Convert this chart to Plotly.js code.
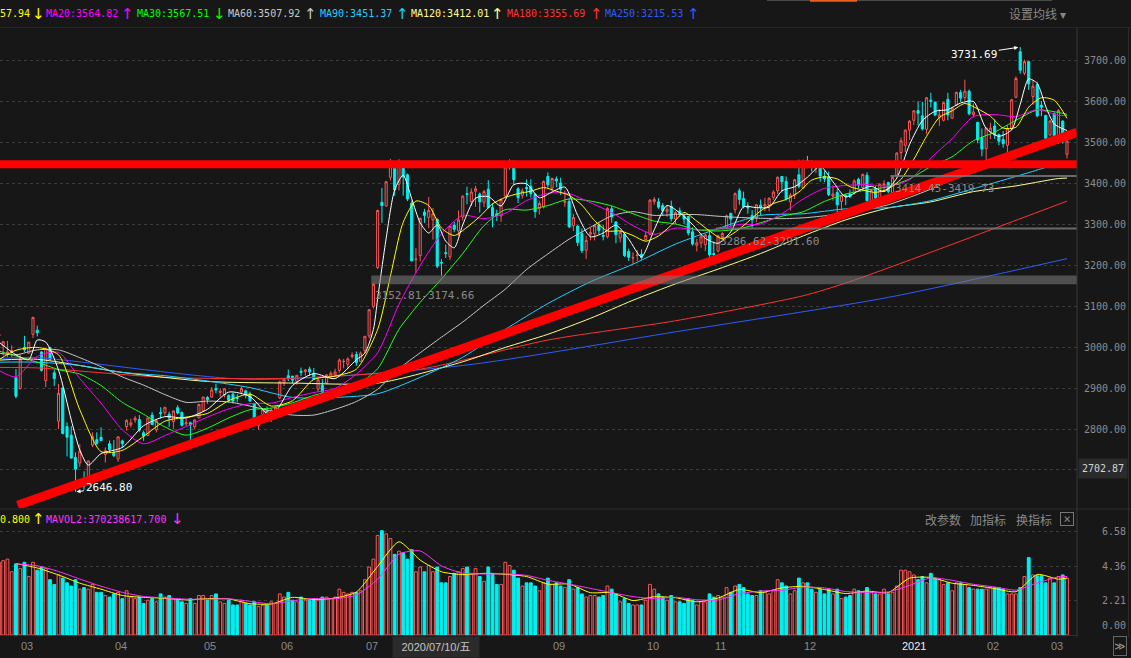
<!DOCTYPE html>
<html><head><meta charset="utf-8">
<script src="https://cdn.plot.ly/plotly-3.0.1.min.js"></script>
<style>html,body{margin:0;padding:0;background:#171717;overflow:hidden}#chart{width:1131px;height:658px}</style>
</head><body><div id="chart"></div>
<script>
// ---------------- DATA ----------------
const monthDays = [
 ['2020-02',[24,25,26,27,28]],
 ['2020-03',[2,3,4,5,6,9,10,11,12,13,16,17,18,19,20,23,24,25,26,27,30,31]],
 ['2020-04',[1,2,3,7,8,9,10,13,14,15,16,17,20,21,22,23,24,27,28,29,30]],
 ['2020-05',[6,7,8,11,12,13,14,15,18,19,20,21,22,25,26,27,28,29]],
 ['2020-06',[1,2,3,4,5,8,9,10,11,12,15,16,17,18,19,22,23,24,29,30]],
 ['2020-07',[1,2,3,6,7,8,9,10,13,14,15,16,17,20,21,22,23,24,27,28,29,30,31]],
 ['2020-08',[3,4,5,6,7,10,11,12,13,14,17,18,19,20,21,24,25,26,27,28,31]],
 ['2020-09',[1,2,3,4,7,8,9,10,11,14,15,16,17,18,21,22,23,24,25,28,29,30]],
 ['2020-10',[9,12,13,14,15,16,19,20,21,22,23,26,27,28,29,30]],
 ['2020-11',[2,3,4,5,6,9,10,11,12,13,16,17,18,19,20,23,24,25,26,27,30]],
 ['2020-12',[1,2,3,4,7,8,9,10,11,14,15,16,17,18,21,22,23,24,25,28,29,30,31]],
 ['2021-01',[4,5,6,7,8,11,12,13,14,15,18,19,20,21,22,25,26,27,28,29]],
 ['2021-02',[1,2,3,4,5,8,9,10,18,19,22,23,24,25,26]],
 ['2021-03',[1,2,3,4,5]]
];
const open = [
3027,3003,2984,2989,2925,
2899,2999,2985,3031,3041,2988,2918,2999,2937,2819,2900,2806,2785,2731,2717,2677,2678,2761,2774,2780,2738,2764,
2743,2727,2771,2806,2810,2822,2823,2791,2784,2834,2798,2840,2840,2836,2818,2852,2840,2813,2815,2806,2827,
2844,2877,2878,2899,2889,2883,2882,2885,2876,2890,2893,2885,2862,2809,2835,2845,2836,2833,
2876,2913,2930,2929,2916,2941,2940,2946,2936,2897,2907,2912,2929,2932,2943,2964,2958,2977,2982,2965,
2991,3027,3099,3194,3353,3344,3414,3435,3397,3441,3420,3351,3213,3223,3329,3316,3310,3311,3206,3230,3220,3297,3283,
3317,3374,3355,3380,3373,3353,3385,3340,3325,3320,3368,3443,3451,3386,3370,3389,3392,3373,3338,3342,3416,
3388,3410,3400,3353,3355,3296,3295,3277,3236,3275,3276,3298,3272,3269,3337,3305,3266,3275,3233,3217,3223,3226,
3262,3275,3355,3354,3345,3330,3343,3312,3332,3320,3318,3281,3248,3254,3250,3272,
3228,3234,3269,3290,3326,3335,3381,3362,3344,3321,3315,3346,3344,3346,3365,3381,3416,3404,3354,3371,3420,
3388,3455,3446,3436,3448,3416,3414,3368,3377,3355,3370,3373,3375,3409,3389,3419,3354,3386,3352,3395,3401,3376,3419,
3474,3492,3529,3553,3577,3564,3531,3602,3597,3560,3553,3604,3558,3590,3621,3608,3624,3567,3548,3511,
3484,3525,3539,3518,3506,3492,3532,3609,3720,3668,3696,3611,3640,3590,3565,
3517,3569,3510,3551,3470];
const high = [
3040,3014,3015,3004,2946,
2982,3027,3012,3074,3052,2990,2998,3000,2944,2910,2903,2816,2807,2743,2763,2697,2723,2792,2792,2804,2755,2772,
2773,2781,2774,2824,2825,2832,2834,2796,2827,2841,2822,2853,2853,2842,2845,2858,2843,2829,2818,2823,2861,
2878,2880,2902,2910,2899,2900,2884,2889,2885,2904,2896,2891,2863,2821,2847,2855,2851,2855,
2918,2922,2945,2929,2931,2950,2946,2952,2949,2927,2922,2934,2941,2947,2972,2971,2975,2987,2989,2989,
3027,3092,3155,3335,3388,3405,3459,3439,3458,3442,3423,3357,3241,3315,3337,3366,3339,3314,3214,3250,3295,3305,3333,
3370,3391,3387,3393,3377,3383,3407,3350,3335,3362,3445,3458,3455,3390,3387,3409,3409,3375,3357,3406,3426,
3413,3416,3413,3382,3364,3325,3297,3289,3271,3290,3298,3303,3298,3341,3345,3307,3285,3278,3240,3231,3236,3238,
3281,3361,3366,3363,3351,3346,3357,3331,3340,3325,3320,3292,3264,3277,3276,3285,
3257,3274,3280,3323,3327,3377,3387,3379,3353,3334,3348,3360,3364,3365,3382,3416,3417,3416,3376,3410,3457,
3457,3466,3456,3447,3451,3430,3428,3394,3385,3372,3374,3384,3409,3413,3423,3426,3386,3392,3399,3407,3403,3416,3475,
3511,3530,3553,3578,3599,3598,3610,3620,3599,3580,3598,3620,3585,3623,3627,3652,3628,3594,3549,3533,
3536,3547,3555,3521,3527,3541,3605,3660,3731.69,3701,3697,3651,3647,3600,3566,
3553,3572,3580,3553,3505];
const low = [
3015,2979,2975,2975,2875,
2896,2988,2983,3022,3026,2940,2902,2967,2905,2800,2787,2733,2728,2646.8,2708,2652,2665,2756,2761,2771,2718,2743,
2731,2720,2754,2796,2804,2815,2793,2771,2783,2810,2792,2826,2833,2805,2800,2836,2806,2807,2765,2800,2827,
2842,2862,2876,2887,2879,2877,2864,2862,2865,2888,2875,2866,2813,2798,2830,2834,2817,2825,
2873,2905,2917,2911,2908,2929,2930,2930,2920,2891,2887,2911,2922,2928,2937,2948,2946,2972,2954,2965,
2985,3021,3094,3190,3303,3342,3406,3369,3382,3369,3356,3209,3180,3209,3303,3290,3262,3192,3174,3217,3212,3280,3271,
3308,3348,3344,3342,3328,3341,3338,3292,3307,3305,3365,3432,3395,3351,3362,3367,3365,3315,3323,3338,3389,
3379,3390,3371,3342,3290,3283,3246,3229,3215,3260,3260,3275,3260,3265,3303,3253,3255,3220,3210,3203,3209,3213,
3260,3272,3347,3337,3321,3318,3306,3300,3318,3300,3272,3247,3233,3242,3234,3220,
3209,3230,3257,3289,3292,3326,3347,3338,3325,3291,3304,3321,3331,3331,3359,3373,3377,3357,3333,3361,3387,
3386,3436,3428,3424,3403,3402,3368,3357,3325,3334,3346,3363,3372,3387,3385,3350,3342,3357,3347,3380,3375,3368,3418,
3457,3475,3505,3541,3540,3528,3519,3584,3563,3539,3550,3553,3557,3588,3598,3601,3565,3560,3497,3465,
3446,3507,3508,3492,3486,3468,3528,3607,3667,3663,3627,3591,3560,3563,3498,
3514,3503,3495,3496,3460];
const close = [
3031,3013,2988,2991,2880,
2971,2993,3012,3072,3035,2943,2997,2969,2923,2887,2789,2780,2729,2702,2746,2660,2722,2782,2765,2772,2747,2750,
2735,2781,2764,2821,2815,2826,2797,2783,2827,2811,2820,2838,2853,2827,2844,2839,2809,2815,2810,2822,2860,
2878,2872,2895,2895,2892,2898,2870,2868,2875,2899,2884,2868,2814,2818,2847,2837,2846,2852,
2915,2921,2923,2919,2931,2938,2944,2939,2921,2920,2890,2932,2936,2939,2968,2965,2971,2980,2962,2985,
3026,3091,3153,3333,3345,3403,3451,3383,3443,3415,3361,3210,3214,3314,3321,3333,3325,3197,3205,3228,3295,3287,3310,
3368,3372,3378,3386,3354,3379,3340,3319,3321,3360,3439,3451,3408,3364,3381,3386,3374,3330,3350,3404,3396,
3411,3405,3385,3355,3293,3316,3255,3235,3260,3279,3296,3284,3270,3338,3317,3274,3280,3223,3219,3218,3224,3218,
3272,3358,3360,3341,3332,3336,3313,3328,3325,3312,3278,3251,3254,3269,3273,3225,
3225,3271,3277,3320,3312,3374,3360,3342,3339,3310,3347,3340,3347,3363,3378,3414,3403,3362,3370,3408,3392,
3452,3449,3442,3445,3417,3410,3372,3373,3347,3369,3367,3367,3405,3395,3421,3357,3382,3363,3397,3397,3379,3414,3473,
3503,3529,3551,3576,3570,3532,3608,3599,3566,3566,3596,3566,3583,3621,3607,3624,3569,3573,3505,3483,
3534,3534,3517,3502,3496,3532,3603,3655,3675,3696,3642,3636,3564,3585,3509,
3551,3509,3577,3503,3502];
// volume, in 1e8 (axis units)
const volume = [
4.6,4.7,4.8,4.0,4.5,
4.2,4.6,3.7,4.6,4.1,4.3,4.2,3.5,3.2,3.8,3.6,3.3,3.1,3.5,2.9,3.0,2.9,3.2,2.7,2.7,2.5,2.4,
2.6,2.7,2.3,2.8,2.4,2.3,2.4,2.0,2.2,2.3,2.1,2.6,2.4,2.5,2.3,2.2,2.1,2.0,2.3,2.0,2.5,
2.5,2.2,2.5,2.6,2.1,2.0,2.2,1.9,1.9,2.2,2.0,1.9,2.1,1.8,1.9,1.9,2.1,2.0,
2.6,2.4,2.7,2.2,2.1,2.4,2.2,2.2,2.3,2.2,2.4,2.4,2.3,2.4,2.9,2.7,2.6,2.7,2.7,2.8,
3.5,4.3,4.8,6.3,6.6,6.4,6.1,5.1,5.3,5.2,4.8,5.4,4.0,4.3,4.0,4.4,4.0,4.3,3.3,3.3,3.7,3.9,4.0,
4.2,4.3,3.9,4.2,3.7,3.4,4.3,3.9,3.2,3.2,4.6,4.4,4.1,3.6,3.1,3.3,3.3,3.1,2.8,3.3,3.6,
3.2,3.3,3.1,3.0,3.5,2.9,3.0,2.6,2.4,2.5,2.5,2.4,2.5,3.1,2.9,2.6,2.1,2.3,2.0,1.9,1.9,1.9,
2.2,3.2,2.9,2.6,2.4,2.2,2.5,2.1,2.1,2.0,2.3,2.2,1.9,2.1,2.1,2.6,
2.4,2.5,2.4,3.0,2.7,3.1,3.2,3.0,2.6,2.5,2.5,2.8,2.7,2.6,2.8,3.5,3.3,3.1,2.6,2.8,3.6,
3.3,3.3,2.9,2.7,2.9,2.6,2.9,2.6,2.9,2.3,2.4,2.5,2.9,2.8,2.7,3.0,2.7,2.6,2.6,2.9,2.6,2.7,3.1,
4.1,4.1,4.0,3.8,3.5,3.7,3.3,3.9,3.6,3.5,3.2,3.3,2.8,3.3,3.3,3.2,3.0,2.9,2.9,2.9,
2.9,3.0,3.0,3.0,2.9,2.6,2.6,2.6,3.0,3.7,4.9,3.8,3.75,3.75,3.3,
3.6,3.3,3.7,3.8,3.6];

// moving-average lines, read at anchor trading days (index into dates)
const step5 = [4,9,14,19,24,29,34,39,44,49,54,59,64,69,74,79,84,89,94,99,104,109,114,119,124,129,134,139,144,149,154,159,164,169,174,179,184,189,194,199,204,209,214,219,224,229,234,239,244,249,251];
const ma5Idx = [0,4,7,9,11,14,17,19,21,24,29,34,39,44,49,54,59,64,69,74,79,84,86,88,89,91,93,95,97,99,101,103,105,107,109,112,115,118,121,124,127,130,133,136,139,142,145,148,151,154,157,160,163,166,169,172,175,178,181,184,187,190,193,196,199,202,205,208,211,214,217,220,223,226,229,232,235,238,240,242,244,246,248,251];
const ma5 = [3012,2981,2969,3017,3012,2944,2822,2749,2712,2740,2755,2808,2830,2827,2848,2890,2879,2832,2906,2935,2923,2969,2985,3043,3118,3265,3383,3419,3362,3303,3278,3298,3258,3242,3298,3363,3367,3344,3396,3398,3364,3378,3390,3321,3269,3278,3297,3263,3220,3286,3345,3327,3299,3265,3253,3281,3342,3340,3341,3381,3391,3414,3441,3403,3366,3381,3392,3379,3412,3494,3552,3575,3579,3595,3599,3533,3514,3530,3592,3654,3643,3587,3544,3528];
const ma10Idx = [0,4,9,14,19,24,29,34,39,44,49,54,59,64,69,74,79,84,89,92,95,98,101,104,107,110,113,116,119,122,125,128,131,134,137,140,143,146,149,152,155,158,161,164,167,170,173,176,179,182,185,188,191,194,197,200,203,206,209,212,215,218,221,224,227,230,233,236,239,242,245,248,251];
const ma10 = [2969,2992,2999,2981,2847,2745,2748,2782,2819,2829,2838,2869,2885,2856,2869,2921,2929,2946,3043,3173,3304,3356,3345,3290,3272,3292,3318,3349,3365,3374,3380,3389,3380,3370,3346,3308,3283,3283,3272,3258,3271,3297,3328,3307,3283,3264,3280,3305,3332,3350,3360,3378,3407,3415,3410,3391,3383,3377,3386,3409,3458,3514,3560,3576,3594,3581,3563,3534,3536,3585,3608,3602,3557.94];
const ma20 = [2943,2927,2977,2987,2923,2863,2798,2764,2784,2806,2829,2849,2862,2863,2877,2889,2899,2934,2986,3104,3199,3276,3321,3313,3326,3357,3375,3374,3352,3328,3296,3275,3290,3286,3288,3299,3300,3325,3361,3387,3394,3396,3393,3408,3461,3508,3562,3567,3562,3579,3565,3564.82];
const ma30 = [2990,2978,2963,2945,2934,2906,2865,2836,2805,2785,2802,2827,2847,2851,2864,2882,2894,2908,2947,3043,3109,3166,3228,3296,3335,3334,3345,3361,3356,3344,3325,3307,3300,3286,3283,3288,3303,3319,3330,3355,3373,3383,3391,3410,3440,3464,3503,3524,3553,3578,3572,3567.51];
const ma60 = [2985,2981,2993,2993,2974,2952,2927,2907,2884,2865,2868,2866,2856,2844,2834,2834,2848,2867,2897,2947,2986,3024,3061,3102,3141,3189,3227,3263,3292,3320,3330,3321,3323,3323,3319,3316,3314,3313,3315,3320,3328,3336,3347,3365,3385,3409,3438,3454,3472,3494,3506,3507.92];
const ma90Idx = [0,9,19,29,39,49,59,69,79,89,99,109,119,129,139,149,159,169,179,189,199,209,219,229,239,249,251];
const ma90 = [2963,2963,2955,2938,2930,2917,2901,2877,2877,2886,2926,2975,3043,3106,3159,3202,3251,3289,3321,3325,3337,3340,3357,3386,3416,3447,3451.37];
const ma120Idx = [0,9,29,49,69,89,109,119,129,139,149,159,169,179,189,199,209,219,229,239,249,251];
const ma120 = [2968,2970,2938,2916,2912,2912,2964,2999,3031,3070,3114,3154,3190,3228,3271,3310,3339,3354,3379,3393,3411,3412.01];
const ma180Idx = [0,9,39,69,99,129,159,189,199,219,239,251];
const ma180 = [2950,2949,2926,2924,2946,3017,3064,3125,3156,3231,3309,3355.69];
const ma250Idx = [0,9,59,109,159,209,251];
const ma250 = [2972,2974,2921,2955,3037,3121,3215.53];
const mavol1 = [4.52,4.24,3.80,3.28,2.90,2.50,2.38,2.32,2.22,2.30,2.28,1.98,1.96,2.38,2.24,2.34,2.72,4.34,5.90,4.74,4.00,3.82,3.90,3.84,3.70,3.22,3.22,2.68,2.68,2.18,2.42,2.36,2.10,2.34,2.88,2.68,2.98,3.08,2.88,2.62,2.78,2.68,3.60,3.64,3.28,3.14,2.94,2.74,3.83,3.53,3.60];
const mavol2 = [4.50,4.38,4.02,3.54,3.09,2.70,2.44,2.35,2.27,2.26,2.29,2.13,1.97,2.17,2.31,2.29,2.53,3.53,5.12,5.32,4.37,3.91,3.86,3.87,3.77,3.46,3.22,2.95,2.68,2.43,2.30,2.39,2.23,2.22,2.61,2.78,2.83,3.03,2.98,2.75,2.70,2.73,3.14,3.62,3.46,3.21,3.04,2.84,3.29,3.68,3.70];

// price levels marked on the chart
const bandLow = [3152.81, 3286.62, 3414.45];
const bandHigh = [3174.66, 3291.60, 3419.73];
const bandStart = ['2020-07-03', '2020-11-03', '2020-12-30'];
const resistance = 3446;
const trendFrom = ['2020-02-28', 2614];
const trendTo = ['2021-03-05', 3518];
const peakDate = '2021-02-18', peakValue = 3731.69;
const troughDate = '2020-03-19', troughValue = 2646.80;
const cursorPrice = 2702.87, cursorDate = '2020-07-10';

const xTickDates = ['2020-03-02','2020-04-01','2020-05-06','2020-06-01','2020-07-01','2020-09-01','2020-10-09','2020-11-02','2020-12-01','2021-01-04','2021-02-01','2021-03-01'];
const xTickText = ['03','04','05','06','07','09','10','11','12','2021','02','03'];
const priceTicks = [2700,2800,2900,3000,3100,3200,3300,3400,3500,3600,3700];
const volTicks = [0, 2.21, 4.36, 6.58];

const maLegend = [
 ['57.94','↓','#ffff00'],['MA20:3564.82','↑','#ff00ff'],['MA30:3567.51','↓','#00ff00'],['MA60:3507.92','↑','#c8c8c8'],
 ['MA90:3451.37','↑','#20d0ff'],['MA120:3412.01','↑','#ffff90'],['MA180:3355.69','↑','#ff3333'],['MA250:3215.53','↑','#2f5bff']];
const volLegend = [['0.800','↑','#ffff00'],['MAVOL2:370238617.700','↓','#ff33ff']];

// ---------------- BUILD ----------------
const dates = [];
monthDays.forEach(([m, ds]) => ds.forEach(d => dates.push(m + '-' + String(d).padStart(2,'0'))));
const X = dates.map((d,i) => i);
const di = d => dates.indexOf(d);

const BG = '#171717', RED = '#ff5555', CYAN = '#00f0f0';
const MONO = 'DejaVu Sans Mono, Liberation Mono, monospace';
const CJK = 'Noto Sans CJK SC, sans-serif';
const W = 1131, H = 658, ML = 0, MR = 54, MT = 30, MB = 23;
const PW = W-ML-MR, PH = H-MT-MB;
const px = v => (v-ML)/PW;
const py = v => (H-MB-v)/PH;

const traces = [];
traces.push({type:'candlestick', x:X, open, high, low, close, xaxis:'x', yaxis:'y',
  increasing:{line:{color:RED,width:1}, fillcolor:BG},
  decreasing:{line:{color:CYAN,width:1}, fillcolor:CYAN},
  whiskerwidth:0, hoverinfo:'skip'});
const maLine = (idx, vals, color) => ({type:'scatter', mode:'lines', x:idx, y:vals, xaxis:'x', yaxis:'y',
  line:{color, width:1, shape:'spline', smoothing:0.7}, hoverinfo:'skip'});
traces.push(maLine(ma250Idx, ma250, '#2f5bff'));
traces.push(maLine(ma180Idx, ma180, '#ff3333'));
traces.push(maLine(ma120Idx, ma120, '#ffff90'));
traces.push(maLine(ma90Idx, ma90, '#20d0ff'));
traces.push(maLine([0].concat(step5), ma60, '#c8c8c8'));
traces.push(maLine([0].concat(step5), ma30, '#22ff22'));
traces.push(maLine([0].concat(step5), ma20, '#ff00ff'));
traces.push(maLine(ma10Idx, ma10, '#ffff00'));
traces.push(maLine(ma5Idx, ma5, '#ffffff'));

const up = close.map((c,i) => c >= open[i]);
traces.push({type:'bar', x:X, y:volume, xaxis:'x', yaxis:'y2', width:0.66,
  marker:{color: up.map(u => u ? BG : CYAN), line:{color: up.map(u => u ? RED : CYAN), width:1}}, hoverinfo:'skip'});
traces.push({type:'scatter', mode:'lines', x:step5, y:mavol1, xaxis:'x', yaxis:'y2', line:{color:'#ffff00', width:1, shape:'spline', smoothing:0.6}, hoverinfo:'skip'});
traces.push({type:'scatter', mode:'lines', x:step5, y:mavol2, xaxis:'x', yaxis:'y2', line:{color:'#ff33ff', width:1, shape:'spline', smoothing:0.6}, hoverinfo:'skip'});

const shapes = [];
// user-drawn thick red lines
shapes.push({type:'line', xref:'paper', yref:'y', x0:0, x1:1, y0:resistance, y1:resistance, line:{color:'#ff0000', width:8}, layer:'above'});
shapes.push({type:'line', xref:'x', yref:'y', x0:di(trendFrom[0])+0.4, y0:trendFrom[1], x1:di(trendTo[0])+2.35, y1:trendTo[1]+6, line:{color:'#ff0000', width:9}, layer:'above'});
// gap bands
bandLow.forEach((lo,k) => {
  shapes.push({type:'rect', xref:'x', yref:'y', x0:di(bandStart[k])-0.5, x1:253.35, y0:lo, y1:bandHigh[k],
    fillcolor: k===0 ? 'rgba(125,125,125,0.55)' : 'rgba(120,120,120,0.85)', line:{width:0}, layer:'above'});
});
// frame lines
shapes.push({type:'line', xref:'paper', yref:'paper', x0:1, x1:1, y0:py(637), y1:py(28), line:{color:'#383838', width:1}});
shapes.push({type:'line', xref:'paper', yref:'paper', x0:px(1128.5), x1:px(1128.5), y0:py(637), y1:py(28), line:{color:'#2c2c2c', width:1}});
shapes.push({type:'line', xref:'paper', yref:'paper', x0:0, x1:px(W), y0:py(509), y1:py(509), line:{color:'#2c2c2c', width:1}});
shapes.push({type:'line', xref:'paper', yref:'paper', x0:0, x1:px(W), y0:py(27.5), y1:py(27.5), line:{color:'#262626', width:1}});
shapes.push({type:'line', xref:'paper', yref:'paper', x0:px(767), x1:px(1052), y0:py(0.5), y1:py(0.5), line:{color:'#4a4a4a', width:1}});
shapes.push({type:'line', xref:'paper', yref:'paper', x0:px(810), x1:px(857), y0:py(0.8), y1:py(0.8), line:{color:'#e8601c', width:2}});

const ann = [];
const txt = (x, y, text, color, extra) => Object.assign({xref:'paper', yref:'paper', x:px(x), y:py(y), text, showarrow:false,
  xanchor:'left', yanchor:'middle', font:{family:MONO, size:10, color}}, extra || {});
const arrowTxt = (x, y, ch, color) => txt(x, y, ch, color, {xanchor:'center', font:{family:'DejaVu Sans, sans-serif', size:15, color}});
const legendX = [0,46,137,228,320,411,507,605];
const arrowX = [38,127,219,310,402,497,596,693];
maLegend.forEach(([t,a,c],k) => { ann.push(txt(legendX[k]-2, 14, t, c)); ann.push(arrowTxt(arrowX[k], 14, a, c)); });
ann.push(txt(1007, 14, '设置均线 ▾', '#8a8a8a', {font:{family:CJK, size:12, color:'#8a8a8a'}}));
ann.push(txt(-2, 519, volLegend[0][0], volLegend[0][2])); ann.push(arrowTxt(38, 519, volLegend[0][1], volLegend[0][2]));
ann.push(txt(44, 519, volLegend[1][0], volLegend[1][2])); ann.push(arrowTxt(177, 519, volLegend[1][1], volLegend[1][2]));
[['改参数',943],['加指标',988],['换指标',1034]].forEach(([t,x]) =>
  ann.push(txt(x, 519, t, '#8a8a8a', {xanchor:'center', font:{family:CJK, size:12, color:'#8a8a8a'}})));
ann.push(txt(1067, 519, '×', '#8a8a8a', {xanchor:'center', bordercolor:'#777', borderwidth:1, borderpad:0, width:12, height:12, font:{family:MONO, size:12, color:'#8a8a8a'}}));
// x tick labels
xTickDates.forEach((d,k) => ann.push({xref:'x', yref:'paper', x:di(d), y:py(646), text:xTickText[k], showarrow:false,
  xanchor:'left', yanchor:'middle', xshift:-1, font:{family:'Liberation Sans Narrow, Liberation Sans, sans-serif', size:11, color: xTickText[k]==='2021' ? '#eeeeee' : '#8a8a8a'}}));
ann.push({xref:'x', yref:'paper', x:di(cursorDate), y:py(647), text:'2020/07/10/五', showarrow:false, xanchor:'left', yanchor:'middle', xshift:-3,
  bgcolor:'#2b2b2b', width:84, height:18, font:{family:'Liberation Sans Narrow, Liberation Sans, Noto Sans CJK SC, sans-serif', size:11, color:'#c4c4c4'}});
ann.push(txt(1120, 646, '≫', '#9a9a9a', {xanchor:'center', bordercolor:'#666', borderwidth:1, borderpad:1, width:10, height:16, font:{family:MONO, size:11, color:'#9a9a9a'}}));
// high / low marks
ann.push({xref:'x', yref:'y', x:di(peakDate), y:peakValue, text:peakValue.toFixed(2), showarrow:true, ax:-46, ay:7,
  arrowhead:2, arrowsize:0.8, arrowwidth:1, arrowcolor:'#ffffff', standoff:2, font:{family:MONO, size:11, color:'#ffffff'}});
ann.push({xref:'x', yref:'y', x:di(troughDate), y:troughValue, text:troughValue.toFixed(2), showarrow:true, ax:33, ay:-4,
  arrowhead:2, arrowsize:0.8, arrowwidth:1, arrowcolor:'#ffffff', standoff:1, font:{family:MONO, size:11, color:'#ffffff'}});
// band labels
const bandShift = [-3, -4, -3];
bandLow.forEach((lo,k) => ann.push({xref:'x', yref:'y', x:di(bandStart[k]), y:lo, text:lo.toFixed(2)+'-'+bandHigh[k].toFixed(2),
  showarrow:false, xanchor:'left', yanchor:'top', yshift:bandShift[k], font:{family:MONO, size:11, color:'#8a8a8a'}}));
// cursor price box on right axis
ann.push({xref:'paper', yref:'y', x:1, y:cursorPrice, text:cursorPrice.toFixed(2), showarrow:false, xanchor:'left', yanchor:'middle', xshift:1,
  bgcolor:'#2b2b2b', width:46, height:17, font:{family:MONO, size:10, color:'#d6d6d6'}});
// volume zero label sits a little above the axis bottom
ann.push(txt(1082, 625, '\u00a0\u00a0\u00a00.00', '#8c8c8c', {font:{family:MONO, size:10, color:'#8c8c8c'}}));

const nb = s => '\u00a0'.repeat(Math.max(0, 7 - s.length)) + s;
const layout = {
  width:W, height:H, paper_bgcolor:BG, plot_bgcolor:BG, showlegend:false,
  margin:{l:ML, r:MR, t:MT, b:MB, pad:0},
  font:{family:MONO, size:10, color:'#8c8c8c'},
  xaxis:{range:[0.25,253.35], showgrid:false, zeroline:false, showticklabels:false, ticks:'', anchor:'y2',
    showline:true, linecolor:'#333333', rangeslider:{visible:false}, fixedrange:true},
  yaxis:{domain:[py(508),1], range:[2607.3,3773.2], side:'right', anchor:'x', tickvals:priceTicks,
    ticktext:priceTicks.map(v => v.toFixed(2)), showgrid:true, gridcolor:'#3d3d3d', griddash:'dot', gridwidth:1,
    zeroline:false, ticks:'outside', ticklen:4, tickcolor:'rgba(0,0,0,0)', tickfont:{family:MONO, size:10, color:'#8c8c8c'}},
  yaxis2:{domain:[0, py(528)], range:[0,6.77], side:'right', anchor:'x', tickvals:volTicks,
    ticktext:volTicks.map(v => v === 0 ? '' : nb(v.toFixed(2))), showgrid:true, gridcolor:'#3d3d3d', griddash:'dot', gridwidth:1,
    zeroline:false, ticks:'outside', ticklen:4, tickcolor:'rgba(0,0,0,0)', tickfont:{family:MONO, size:10, color:'#8c8c8c'}},
  shapes, annotations:ann
};
Plotly.newPlot('chart', traces, layout, {staticPlot:true, displayModeBar:false});
</script></body></html>
